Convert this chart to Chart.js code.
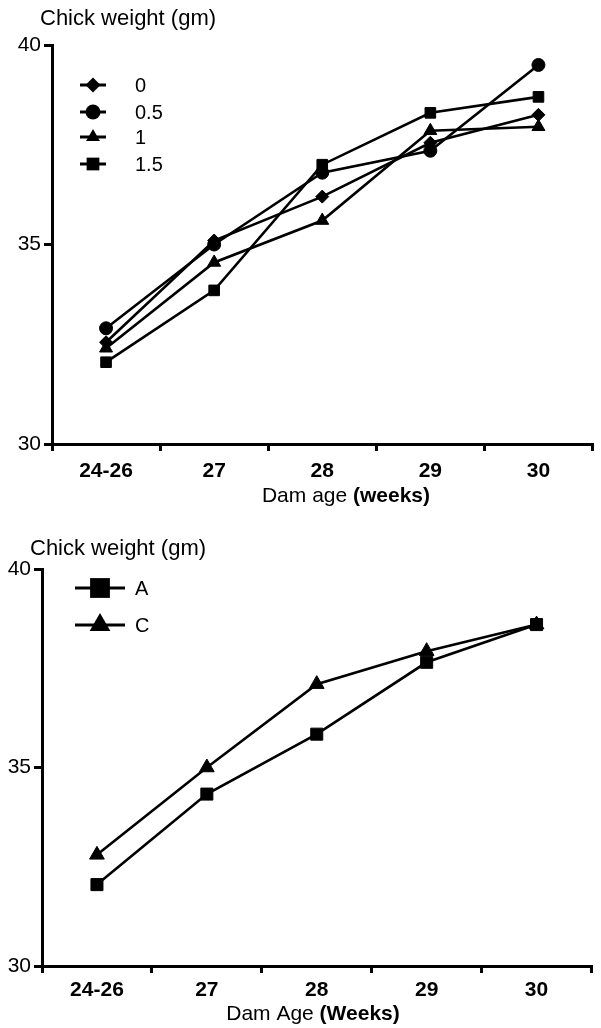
<!DOCTYPE html>
<html>
<head>
<meta charset="utf-8">
<script src="https://cdn.jsdelivr.net/npm/chart.js@4.4.1/dist/chart.umd.min.js"></script>
<style>
    body { margin: 0; background: #fff; }
    canvas { display: block; }
</style>
</head>
<body>
<canvas id="topChart" width="601" height="512"></canvas>
<canvas id="bottomChart" width="601" height="516"></canvas>
<script>
// 横軸（母鶏の週齢）
const damAges = ['24-26', '27', '28', '29', '30'];
const weightTicks = [30, 35, 40];

// 上のグラフ：4系列
const seriesNames = ['0', '0.5', '1', '1.5'];
const weight0 = [32.55, 35.1, 36.2, 37.55, 38.25];
const weight05 = [32.9, 35.0, 36.8, 37.35, 39.5];
const weight1 = [32.4, 34.55, 35.6, 37.85, 37.95];
const weight15 = [32.05, 33.85, 37.0, 38.3, 38.7];

// 下のグラフ：A / C
const groupNames = ['A', 'C'];
const weightA = [32.05, 34.33, 35.84, 37.65, 38.6];
const weightC = [32.8, 35.0, 37.1, 37.93, 38.6];

Chart.defaults.font.family = '"Liberation Sans", Arial, sans-serif';
Chart.defaults.color = '#000';

// 凡例用のマーカー
function drawMarker(ctx, style, x, y, r) {
    ctx.beginPath();
    if (style === 'circle') {
        ctx.arc(x, y, r, 0, Math.PI * 2);
    } else if (style === 'rect') {
        const s = r * Math.SQRT1_2;
        ctx.rect(x - s, y - s, 2 * s, 2 * s);
    } else if (style === 'rectRot') {
        ctx.moveTo(x, y - r);
        ctx.lineTo(x + r, y);
        ctx.lineTo(x, y + r);
        ctx.lineTo(x - r, y);
        ctx.closePath();
    } else if (style === 'triangle') {
        ctx.moveTo(x, y - r);
        ctx.lineTo(x + r * 0.866, y + r / 2);
        ctx.lineTo(x - r * 0.866, y + r / 2);
        ctx.closePath();
    }
    ctx.fill();
}

// 軸タイトルと凡例を描く
const chartDecor = {
    id: 'chartDecor',
    afterDraw(chart, args, opts) {
        const ctx = chart.ctx;
        const area = chart.chartArea;
        ctx.save();
        ctx.fillStyle = '#000';
        ctx.strokeStyle = '#000';

        // 縦軸タイトル
        ctx.font = '22px "Liberation Sans", Arial, sans-serif';
        ctx.textAlign = 'left';
        ctx.textBaseline = 'alphabetic';
        ctx.fillText(opts.yTitle, opts.yTitleX, opts.yTitleY);

        // 横軸タイトル（後半は太字）
        const normalFont = '21px "Liberation Sans", Arial, sans-serif';
        const boldFont = 'bold 21px "Liberation Sans", Arial, sans-serif';
        ctx.font = normalFont;
        const w1 = ctx.measureText(opts.xTitle[0]).width;
        ctx.font = boldFont;
        const w2 = ctx.measureText(opts.xTitle[1]).width;
        let x = opts.xTitleX - (w1 + w2) / 2;
        ctx.font = normalFont;
        ctx.fillText(opts.xTitle[0], x, opts.xTitleY);
        ctx.font = boldFont;
        ctx.fillText(opts.xTitle[1], x + w1, opts.xTitleY);

        // 凡例
        const lg = opts.legend;
        ctx.font = '20px "Liberation Sans", Arial, sans-serif';
        ctx.textBaseline = 'middle';
        chart.data.datasets.forEach((ds, i) => {
            const y = area.top + lg.rows[i];
            ctx.lineWidth = 3;
            ctx.beginPath();
            ctx.moveTo(lg.x0, y);
            ctx.lineTo(lg.x1, y);
            ctx.stroke();
            drawMarker(ctx, ds.pointStyle, (lg.x0 + lg.x1) / 2, y, lg.radius[i]);
            ctx.fillText(ds.label, lg.textX, y + 1);
        });
        ctx.restore();
    }
};

function makeDataset(label, values, style, radius) {
    return {
        label: label,
        data: values,
        borderColor: '#000',
        backgroundColor: '#000',
        borderWidth: 2.6,
        tension: 0,
        pointStyle: style,
        pointRadius: radius,
        pointHoverRadius: radius,
        pointBackgroundColor: '#000',
        pointBorderColor: '#000',
        pointBorderWidth: 1
    };
}

function makeScales(yWidth, xHeight, labelPad) {
    return {
        x: {
            type: 'category',
            offset: true,
            grid: {
                offset: true,
                drawOnChartArea: false,
                drawTicks: true,
                tickLength: 7,
                color: '#000',
                lineWidth: 3
            },
            border: { display: true, color: '#000', width: 3 },
            ticks: {
                font: { size: 21, weight: 'bold' },
                padding: labelPad,
                maxRotation: 0,
                autoSkip: false
            },
            afterFit: (scale) => { scale.height = xHeight; }
        },
        y: {
            min: 30,
            max: 40,
            grid: {
                drawOnChartArea: false,
                drawTicks: true,
                tickLength: 8,
                color: '#000',
                lineWidth: 3
            },
            border: { display: true, color: '#000', width: 3 },
            ticks: {
                font: { size: 21 },
                padding: 3
            },
            afterBuildTicks: (scale) => {
                scale.ticks = weightTicks.map(v => ({ value: v }));
            },
            afterFit: (scale) => { scale.width = yWidth; }
        }
    };
}

function createTopChart() {
    const ctx = document.getElementById('topChart').getContext('2d');
    new Chart(ctx, {
        type: 'line',
        data: {
            labels: damAges,
            datasets: [
                makeDataset(seriesNames[0], weight0, 'rectRot', 6.5),
                makeDataset(seriesNames[1], weight05, 'circle', 6.5),
                makeDataset(seriesNames[2], weight1, 'triangle', 7.5),
                makeDataset(seriesNames[3], weight15, 'rect', 7.5)
            ]
        },
        options: {
            responsive: false,
            animation: false,
            layout: { padding: { top: 45, right: 2, left: 0, bottom: 0 } },
            scales: makeScales(52, 68, 8),
            plugins: {
                legend: { display: false },
                tooltip: { enabled: false },
                chartDecor: {
                    yTitle: 'Chick weight (gm)',
                    yTitleX: 40,
                    yTitleY: 25,
                    xTitle: ['Dam age ', '(weeks)'],
                    xTitleX: 346,
                    xTitleY: 502,
                    legend: {
                        x0: 80, x1: 106, textX: 135,
                        rows: [40, 67, 92, 119],
                        radius: [7.5, 7.5, 8, 9]
                    }
                }
            }
        },
        plugins: [chartDecor]
    });
}

function createBottomChart() {
    const ctx = document.getElementById('bottomChart').getContext('2d');
    new Chart(ctx, {
        type: 'line',
        data: {
            labels: damAges,
            datasets: [
                makeDataset(groupNames[0], weightA, 'rect', 8.5),
                makeDataset(groupNames[1], weightC, 'triangle', 8.5)
            ]
        },
        options: {
            responsive: false,
            animation: false,
            layout: { padding: { top: 57, right: 9, left: 0, bottom: 0 } },
            scales: makeScales(42, 62, 5),
            plugins: {
                legend: { display: false },
                tooltip: { enabled: false },
                chartDecor: {
                    yTitle: 'Chick weight (gm)',
                    yTitleX: 30,
                    yTitleY: 43,
                    xTitle: ['Dam Age ', '(Weeks)'],
                    xTitleX: 313,
                    xTitleY: 508,
                    legend: {
                        x0: 75, x1: 125, textX: 135,
                        rows: [19, 56],
                        radius: [14, 12]
                    }
                }
            }
        },
        plugins: [chartDecor]
    });
}

document.addEventListener('DOMContentLoaded', () => {
    createTopChart();
    createBottomChart();
});
</script>
</body>
</html>
